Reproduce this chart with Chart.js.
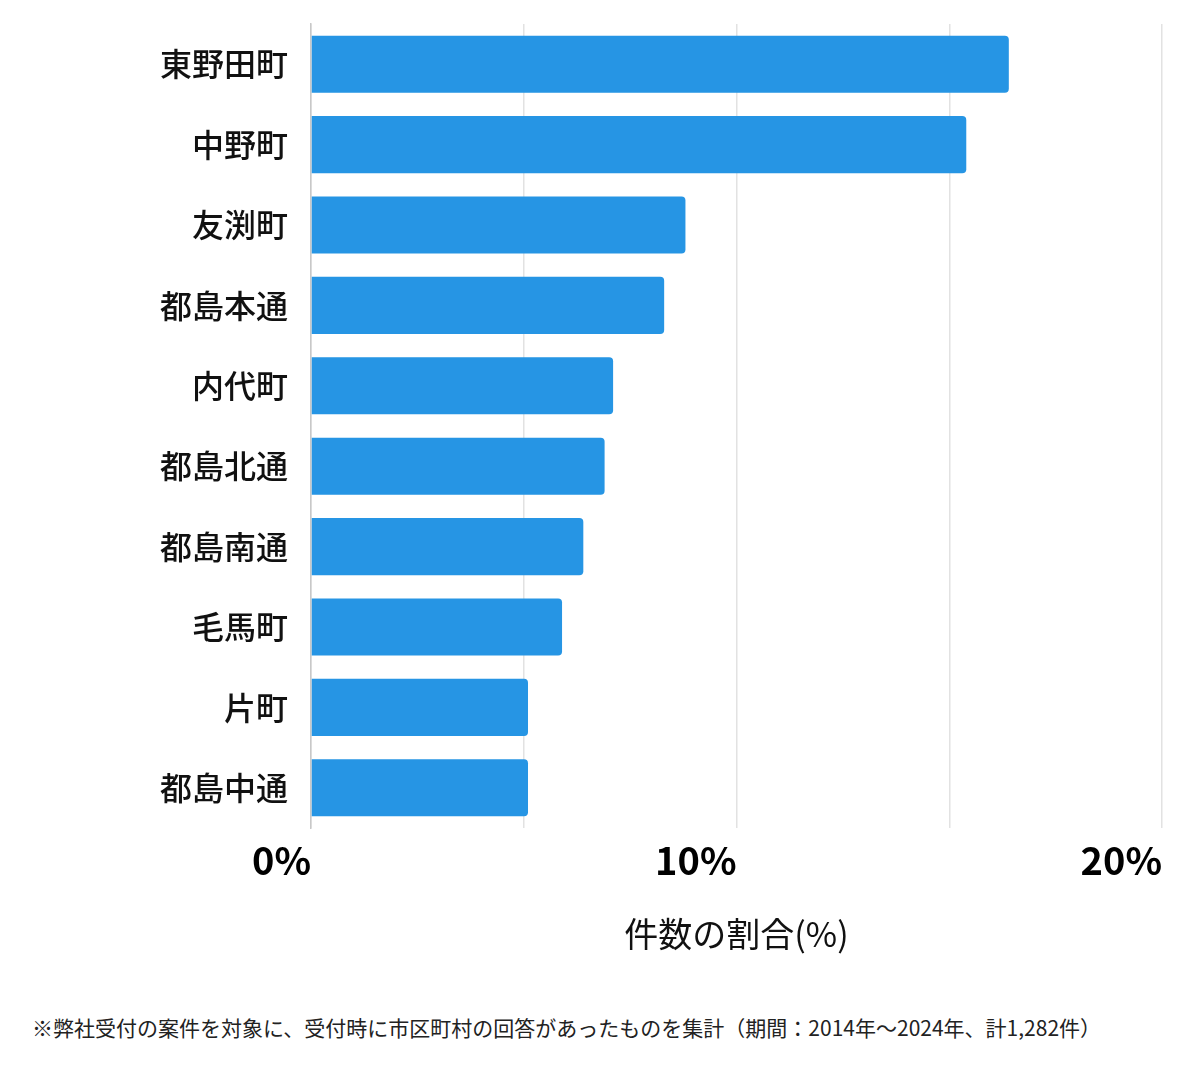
<!DOCTYPE html>
<html lang="ja">
<head>
<meta charset="utf-8">
<title>町名別 件数の割合</title>
<script src="https://cdn.jsdelivr.net/npm/chart.js@4/dist/chart.umd.min.js"></script>
<style>
  html, body { margin: 0; padding: 0; background: #fff; }
  #wrap { position: relative; width: 1200px; height: 1069px; }
  #chartBox { position: absolute; left: 0; top: 0; width: 1200px; height: 980px; }
  #note {
    position: absolute; left: 32px; top: 1012px;
    font-family: "Noto Sans CJK JP", "Noto Sans", sans-serif;
    font-size: 21px; color: #222; white-space: nowrap;
  }
</style>
</head>
<body>
<div id="wrap">
  <div id="chartBox"><canvas id="areaChart"></canvas></div>
  <div id="note">※弊社受付の案件を対象に、受付時に市区町村の回答があったものを集計（期間：2014年～2024年、計1,282件）</div>
</div>
<script>
const categories = ["東野田町", "中野町", "友渕町", "都島本通", "内代町", "都島北通", "都島南通", "毛馬町", "片町", "都島中通"];
const shares = [16.4, 15.4, 8.8, 8.3, 7.1, 6.9, 6.4, 5.9, 5.1, 5.1]; // 件数の割合(%)
const labeledTicks = [0, 10, 20]; // 目盛りラベルを出す値
const axisTitle = "件数の割合(%)";

const barColor = "#2695e4";
const jpFont = '"Noto Sans CJK JP", "Noto Sans", sans-serif';

document.addEventListener("DOMContentLoaded", function () {
  const ctx = document.getElementById("areaChart");

  new Chart(ctx, {
    type: "bar",
    data: {
      labels: categories,
      datasets: [
        {
          data: shares,
          backgroundColor: barColor,
          borderRadius: 4,
          borderSkipped: "start",
          categoryPercentage: 1,
          barPercentage: 0.71,
        },
      ],
    },
    options: {
      indexAxis: "y",
      responsive: true,
      maintainAspectRatio: false,
      animation: false,
      layout: { padding: { top: 24, right: 38, left: 0, bottom: 0 } },
      plugins: {
        legend: { display: false },
        tooltip: { enabled: false },
      },
      scales: {
        x: {
          min: 0,
          max: 20,
          border: { display: false },
          grid: { color: "#e2e2e2", lineWidth: 1.5, drawTicks: false },
          ticks: {
            stepSize: 5,
            autoSkip: false,
            maxRotation: 0,
            align: "end",
            padding: 10,
            color: "#000",
            font: { family: jpFont, size: 38, weight: "bold" },
            // 0, 10, 20 だけラベルを表示（5%刻みは線のみ）
            callback: (v) => (labeledTicks.includes(v) ? v + "%" : ""),
          },
          title: {
            display: true,
            text: axisTitle,
            color: "#111",
            font: { family: jpFont, size: 34, weight: "normal" },
            padding: { top: 0, bottom: 26 },
          },
          afterFit: (scale) => { scale.height = 152; },
        },
        y: {
          border: { display: true, color: "#c8c8c8", width: 1.5 },
          // 目盛り線は透明にして、ラベルとの間隔だけ tickLength で確保
          grid: { display: true, color: "transparent", drawTicks: true, tickLength: 23 },
          ticks: {
            padding: 0,
            color: "#111",
            font: { family: jpFont, size: 32, weight: "500" },
          },
          afterFit: (scale) => { scale.width = 311; },
        },
      },
    },
  });
});
</script>
</body>
</html>
